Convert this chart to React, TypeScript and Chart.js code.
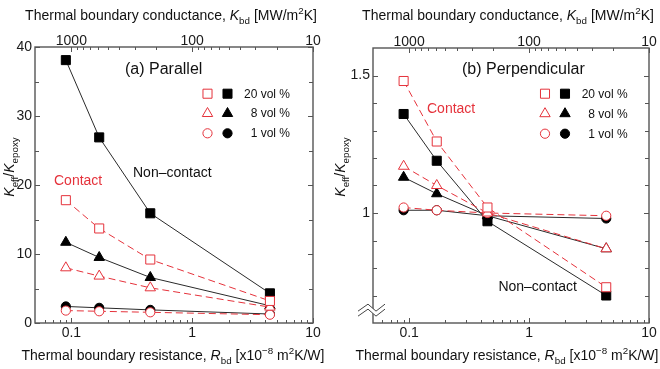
import React, { useEffect, useRef } from 'react';
import { Chart, registerables } from 'chart.js';
Chart.register(...registerables);

// ---------- data ----------
const R_BD = [0.09, 0.17, 0.45, 4.4];

const PAR_NC20 = [38.1, 26.9, 15.9, 4.3];
const PAR_C20 = [17.8, 13.7, 9.2, 3.2];
const PAR_NC8 = [11.7, 9.5, 6.6, 2.5];
const PAR_C8 = [8.0, 6.8, 5.1, 2.3];
const PAR_NC1 = [2.4, 2.2, 1.9, 1.3];
const PAR_C1 = [1.8, 1.7, 1.55, 1.2];

const PERP_NC20 = [1.36, 1.19, 0.97, 0.7];
const PERP_C20 = [1.48, 1.26, 1.02, 0.73];
const PERP_NC8 = [1.13, 1.07, 0.99, 0.87];
const PERP_C8 = [1.17, 1.1, 1.0, 0.87];
const PERP_NC1 = [1.01, 1.01, 0.99, 0.98];
const PERP_C1 = [1.02, 1.01, 1.0, 0.99];

const R_MAJOR = [0.1, 1, 10];
const R_LABELS = ['0.1', '1', '10'];
const R_MINOR = [0.06, 0.07, 0.08, 0.09, 0.2, 0.3, 0.4, 0.5, 0.6, 0.7, 0.8, 0.9, 2, 3, 4, 5, 6, 7, 8, 9];
const K_MAJOR = [1000, 100, 10];
const K_LABELS = ['1000', '100', '10'];
const K_MINOR = [900, 800, 700, 600, 500, 400, 300, 200, 90, 80, 70, 60, 50, 40, 30, 20];

const PAR_Y_MAJOR = [0, 10, 20, 30, 40];
const PAR_Y_LABELS = ['0', '10', '20', '30', '40'];
const PAR_Y_MINOR = [5, 15, 25, 35];
const PERP_Y_MAJOR = [1, 1.5];
const PERP_Y_LABELS = ['1', '1.5'];
const PERP_Y_MINOR = [0.7, 0.8, 0.9, 1.1, 1.2, 1.3, 1.4];

const LEGEND_LABELS = ['20 vol %', '8 vol %', '1 vol %'];
const SHAPES = ['rect', 'triangle', 'circle'];

// ---------- style ----------
const FONT = '"Liberation Sans", Arial, Helvetica, sans-serif';
const RED = '#e5323b';
const LINE_BLACK = '#2a2a2a';
const AXIS = '#555555';

type Part = { t: string; it?: boolean; sub?: boolean; sup?: boolean };

const TOP_TITLE: Part[] = [
  { t: 'Thermal boundary conductance, ' },
  { t: 'K', it: true },
  { t: 'bd', sub: true },
  { t: ' [MW/m' },
  { t: '2', sup: true },
  { t: 'K]' },
];
const BOTTOM_TITLE: Part[] = [
  { t: 'Thermal boundary resistance, ' },
  { t: 'R', it: true },
  { t: 'bd', sub: true },
  { t: ' [x10' },
  { t: '\u22128', sup: true },
  { t: ' m' },
  { t: '2', sup: true },
  { t: 'K/W]' },
];
const Y_TITLE: Part[] = [
  { t: 'K', it: true },
  { t: 'eff', sub: true },
  { t: '/' },
  { t: 'K', it: true },
  { t: 'epoxy', sub: true },
];

function partFont(p: Part, size: number) {
  const s = p.sub || p.sup ? size * 0.7 : size;
  return `${p.it ? 'italic ' : ''}${s}px ${FONT}`;
}

function drawRich(ctx: CanvasRenderingContext2D, parts: Part[], x: number, baseline: number, size: number, align: 'left' | 'center' | 'right', color = '#111') {
  ctx.save();
  ctx.textAlign = 'left';
  ctx.textBaseline = 'alphabetic';
  ctx.fillStyle = color;
  let total = 0;
  const widths = parts.map((p) => {
    ctx.font = partFont(p, size);
    const w = ctx.measureText(p.t).width;
    total += w;
    return w;
  });
  let cx = align === 'left' ? x : align === 'center' ? x - total / 2 : x - total;
  parts.forEach((p, i) => {
    ctx.font = partFont(p, size);
    const dy = p.sub ? size * 0.3 : p.sup ? -size * 0.42 : 0;
    ctx.fillText(p.t, cx, baseline + dy);
    cx += widths[i];
  });
  ctx.restore();
}

function drawMarker(ctx: CanvasRenderingContext2D, shape: string, x: number, y: number, filled: boolean) {
  ctx.save();
  ctx.beginPath();
  if (shape === 'rect') {
    const h = 6.4 * Math.SQRT1_2;
    ctx.rect(x - h, y - h, 2 * h, 2 * h);
  } else if (shape === 'triangle') {
    const r = 6;
    for (let k = 0; k < 3; k++) {
      const a = (k * 2 * Math.PI) / 3;
      const px = x + Math.sin(a) * r;
      const py = y - Math.cos(a) * r;
      if (k === 0) ctx.moveTo(px, py);
      else ctx.lineTo(px, py);
    }
    ctx.closePath();
  } else {
    ctx.arc(x, y, 4.6, 0, Math.PI * 2);
  }
  ctx.fillStyle = filled ? '#000' : '#fff';
  ctx.fill();
  ctx.lineWidth = 1;
  ctx.strokeStyle = filled ? '#000' : RED;
  ctx.stroke();
  ctx.restore();
}

function ds(values: number[], contact: boolean, shape: string) {
  return {
    data: R_BD.map((x, i) => ({ x, y: values[i] })),
    showLine: true,
    borderColor: contact ? RED : LINE_BLACK,
    borderWidth: 1,
    borderDash: contact ? [7, 4] : [],
    pointStyle: shape,
    pointRadius: shape === 'rect' ? 6.4 : shape === 'triangle' ? 6 : 4.6,
    pointHoverRadius: shape === 'rect' ? 6.4 : shape === 'triangle' ? 6 : 4.6,
    pointBackgroundColor: contact ? '#fff' : '#000',
    pointBorderColor: contact ? RED : '#000',
    pointBorderWidth: 1,
    tension: 0,
  };
}

type PanelCfg = {
  contact: number[][];
  nonContact: number[][];
  yMin: number;
  yMax: number;
  yMajor: number[];
  yLabels: string[];
  yMinor: number[];
  pad: { left: number; top: number; right: number; bottom: number };
  label: string;
  labelX: number;
  contactPos: [number, number];
  nonContactPos: [number, number, 'left' | 'right'];
  legendX: [number, number, number];
  legendY: number[];
  topTitleX: number;
  bottomTitleX: number;
  yTitle: [number, number];
  brk: boolean;
};

function makeChart(canvas: HTMLCanvasElement, c: PanelCfg) {
  const tickFont = { size: 14, family: FONT };
  const decor = {
    id: 'decor',
    afterDraw(chart: any) {
      const { ctx, chartArea: a, scales } = chart;
      const xs = scales.x;
      const ys = scales.y;
      ctx.save();
      // frame
      ctx.strokeStyle = AXIS;
      ctx.lineWidth = 1.4;
      ctx.strokeRect(a.left, a.top, a.right - a.left, a.bottom - a.top);
      ctx.lineWidth = 1;
      ctx.beginPath();
      const vt = (v: number, len: number) => {
        const px = Math.round(xs.getPixelForValue(v)) + 0.5;
        ctx.moveTo(px, a.bottom);
        ctx.lineTo(px, a.bottom - len);
      };
      R_MAJOR.forEach((v) => vt(v, 5));
      R_MINOR.forEach((v) => vt(v, 3));
      const tt = (k: number, len: number) => {
        const px = Math.round(xs.getPixelForValue(100 / k)) + 0.5;
        ctx.moveTo(px, a.top);
        ctx.lineTo(px, a.top + len);
      };
      K_MAJOR.forEach((k) => tt(k, 5));
      K_MINOR.forEach((k) => tt(k, 3));
      const ht = (v: number, len: number) => {
        const py = Math.round(ys.getPixelForValue(v)) + 0.5;
        ctx.moveTo(a.left, py);
        ctx.lineTo(a.left + len, py);
        ctx.moveTo(a.right, py);
        ctx.lineTo(a.right - len, py);
      };
      c.yMajor.forEach((v) => ht(v, 5));
      c.yMinor.forEach((v) => ht(v, 4));
      ctx.stroke();

      if (c.brk) {
        const bx = a.left;
        const by = ys.getPixelForValue(c.yMin + 0.045);
        const pts = [
          [-15, 3],
          [-5, -4],
          [3, 3],
          [12, -4],
        ];
        ctx.beginPath();
        pts.forEach(([dx, dy], i) => (i ? ctx.lineTo(bx + dx, by + dy - 2.5) : ctx.moveTo(bx + dx, by + dy - 2.5)));
        for (let i = pts.length - 1; i >= 0; i--) ctx.lineTo(bx + pts[i][0], by + pts[i][1] + 2.5);
        ctx.closePath();
        ctx.fillStyle = '#fff';
        ctx.fill();
        ctx.strokeStyle = '#444';
        ctx.lineWidth = 1;
        [-2.5, 2.5].forEach((off) => {
          ctx.beginPath();
          pts.forEach(([dx, dy], i) => (i ? ctx.lineTo(bx + dx, by + dy + off) : ctx.moveTo(bx + dx, by + dy + off)));
          ctx.stroke();
        });
      }

      // texts
      ctx.fillStyle = '#111';
      ctx.textBaseline = 'middle';
      ctx.textAlign = 'left';
      ctx.font = `16px ${FONT}`;
      ctx.fillText(c.label, c.labelX, 70);
      ctx.font = `14px ${FONT}`;
      ctx.fillStyle = RED;
      ctx.fillText('Contact', c.contactPos[0], c.contactPos[1]);
      ctx.fillStyle = '#111';
      ctx.textAlign = c.nonContactPos[2];
      ctx.fillText('Non\u2013contact', c.nonContactPos[0], c.nonContactPos[1]);

      // legend
      ctx.font = `12px ${FONT}`;
      ctx.textAlign = 'right';
      LEGEND_LABELS.forEach((lab, i) => {
        const y = c.legendY[i];
        drawMarker(ctx, SHAPES[i], c.legendX[0], y, false);
        drawMarker(ctx, SHAPES[i], c.legendX[1], y, true);
        ctx.fillStyle = '#111';
        ctx.fillText(lab, c.legendX[2], y + 0.5);
      });

      // titles
      drawRich(ctx, TOP_TITLE, c.topTitleX, 19.5, 14, 'center');
      drawRich(ctx, BOTTOM_TITLE, c.bottomTitleX, 360, 14, 'center');
      ctx.save();
      ctx.translate(c.yTitle[0], c.yTitle[1]);
      ctx.rotate(-Math.PI / 2);
      drawRich(ctx, Y_TITLE, 0, 0, 14, 'center');
      ctx.restore();
      ctx.restore();
    },
  };

  const datasets = [
    ds(c.contact[0], true, 'rect'),
    ds(c.contact[1], true, 'triangle'),
    ds(c.contact[2], true, 'circle'),
    ds(c.nonContact[0], false, 'rect'),
    ds(c.nonContact[1], false, 'triangle'),
    ds(c.nonContact[2], false, 'circle'),
  ];

  const noGrid = { display: false, drawTicks: false };
  const noBorder = { display: false };

  return new Chart(canvas, {
    type: 'scatter',
    data: { datasets },
    plugins: [decor],
    options: {
      animation: false,
      responsive: false,
      devicePixelRatio: 1,
      layout: { padding: { left: 0, top: 0, right: c.pad.right, bottom: 0 } },
      plugins: { legend: { display: false }, tooltip: { enabled: false } },
      events: [],
      scales: {
        x: {
          type: 'logarithmic',
          position: 'bottom',
          min: 0.05,
          max: 10,
          grid: noGrid,
          border: noBorder,
          afterBuildTicks: (s: any) => {
            s.ticks = R_MAJOR.map((v) => ({ value: v }));
          },
          afterFit: (s: any) => {
            s.height = c.pad.bottom;
          },
          ticks: {
            callback: (_v: any, i: number) => R_LABELS[i],
            autoSkip: false,
            maxRotation: 0,
            padding: 2,
            font: tickFont,
            color: '#1a1a1a',
          },
        },
        x2: {
          type: 'logarithmic',
          position: 'top',
          axis: 'x',
          min: 0.05,
          max: 10,
          grid: noGrid,
          border: noBorder,
          afterBuildTicks: (s: any) => {
            s.ticks = K_MAJOR.map((k) => ({ value: 100 / k }));
          },
          afterFit: (s: any) => {
            s.height = c.pad.top;
          },
          ticks: {
            callback: (_v: any, i: number) => K_LABELS[i],
            autoSkip: false,
            maxRotation: 0,
            padding: -3,
            font: tickFont,
            color: '#1a1a1a',
          },
        },
        y: {
          type: 'linear',
          position: 'left',
          min: c.yMin,
          max: c.yMax,
          grid: noGrid,
          border: noBorder,
          afterBuildTicks: (s: any) => {
            s.ticks = c.yMajor.map((v) => ({ value: v }));
          },
          afterFit: (s: any) => {
            s.width = c.pad.left;
          },
          ticks: {
            callback: (_v: any, i: number) => c.yLabels[i],
            autoSkip: false,
            padding: 3,
            font: tickFont,
            color: '#1a1a1a',
          },
        },
      },
    } as any,
  } as any);
}

const LEFT: PanelCfg = {
  contact: [PAR_C20, PAR_C8, PAR_C1],
  nonContact: [PAR_NC20, PAR_NC8, PAR_NC1],
  yMin: 0,
  yMax: 40,
  yMajor: PAR_Y_MAJOR,
  yLabels: PAR_Y_LABELS,
  yMinor: PAR_Y_MINOR,
  pad: { left: 35, top: 47, right: 17, bottom: 46 },
  label: '(a) Parallel',
  labelX: 125,
  contactPos: [54, 181],
  nonContactPos: [133, 173, 'left'],
  legendX: [207.5, 227.5, 290],
  legendY: [93.7, 113.5, 133.3],
  topTitleX: 171,
  bottomTitleX: 173,
  yTitle: [14, 167],
  brk: false,
};

const RIGHT: PanelCfg = {
  contact: [PERP_C20, PERP_C8, PERP_C1],
  nonContact: [PERP_NC20, PERP_NC8, PERP_NC1],
  yMin: 0.6,
  yMax: 1.6,
  yMajor: PERP_Y_MAJOR,
  yLabels: PERP_Y_LABELS,
  yMinor: PERP_Y_MINOR,
  pad: { left: 43, top: 48, right: 11, bottom: 46 },
  label: '(b) Perpendicular',
  labelX: 132,
  contactPos: [97, 109.5],
  nonContactPos: [247, 287.5, 'right'],
  legendX: [215, 235, 297.7],
  legendY: [93.7, 113.7, 133.7],
  topTitleX: 178,
  bottomTitleX: 177,
  yTitle: [15, 167],
  brk: true,
};

export default function App() {
  const leftRef = useRef<HTMLCanvasElement>(null);
  const rightRef = useRef<HTMLCanvasElement>(null);
  useEffect(() => {
    const a = makeChart(leftRef.current!, LEFT);
    const b = makeChart(rightRef.current!, RIGHT);
    return () => {
      a.destroy();
      b.destroy();
    };
  }, []);
  return (
    <div style={{ position: 'fixed', left: 0, top: 0, width: 660, height: 369, background: '#fff' }}>
      <canvas ref={leftRef} width={330} height={369} style={{ position: 'absolute', left: 0, top: 0, width: 330, height: 369 }} />
      <canvas ref={rightRef} width={330} height={369} style={{ position: 'absolute', left: 330, top: 0, width: 330, height: 369 }} />
    </div>
  );
}
